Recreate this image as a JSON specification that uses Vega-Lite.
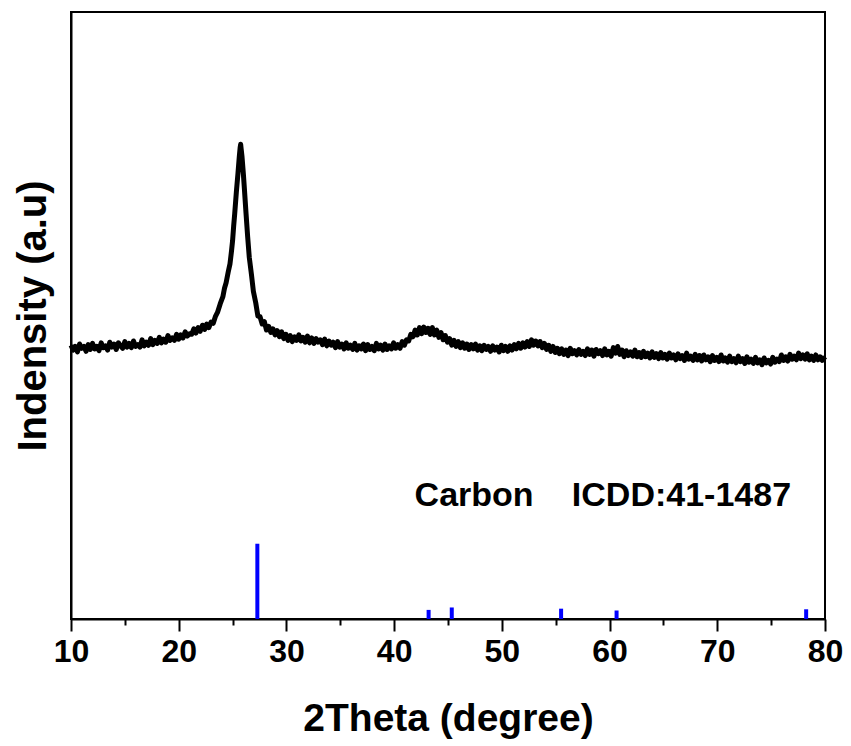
{
  "$schema": "https://vega.github.io/schema/vega-lite/v6.json",
  "width": 754,
  "height": 607,
  "autosize": {"type": "none"},
  "padding": {"left": 71, "top": 12, "right": 26, "bottom": 127},
  "background": "white",
  "config": {
    "font": "Liberation Sans",
    "view": {"stroke": "black", "strokeWidth": 2},
    "axis": {"grid": false, "domainColor": "black", "domainWidth": 2, "tickColor": "black", "tickWidth": 2, "labelColor": "black", "titleColor": "black", "labelFont": "Liberation Sans", "titleFont": "Liberation Sans", "labelFontWeight": "bold", "titleFontWeight": "bold"}
  },
  "datasets": {
    "xrd": [
      {"t":10.00,"i":45.1},{"t":10.2,"i":44.3},{"t":10.4,"i":44.9},{"t":10.6,"i":44.0},{"t":10.8,"i":45.3},{"t":11.0,"i":44.6},{"t":11.2,"i":44.9},{"t":11.4,"i":44.1},{"t":11.6,"i":45.2},{"t":11.8,"i":44.4},{"t":12.0,"i":45.4},{"t":12.2,"i":44.5},{"t":12.4,"i":44.9},{"t":12.6,"i":44.2},{"t":12.8,"i":45.5},{"t":13.0,"i":44.7},{"t":13.2,"i":45.0},{"t":13.4,"i":44.3},{"t":13.6,"i":45.6},{"t":13.8,"i":44.8},{"t":14.0,"i":45.3},{"t":14.2,"i":44.4},{"t":14.4,"i":45.5},{"t":14.6,"i":45.0},{"t":14.8,"i":44.6},{"t":15.0,"i":45.7},{"t":15.2,"i":44.8},{"t":15.4,"i":45.4},{"t":15.6,"i":44.7},{"t":15.8,"i":45.8},{"t":16.0,"i":44.9},{"t":16.2,"i":45.2},{"t":16.4,"i":44.8},{"t":16.6,"i":46.0},{"t":16.8,"i":45.0},{"t":17.0,"i":45.6},{"t":17.2,"i":45.1},{"t":17.4,"i":46.2},{"t":17.6,"i":45.2},{"t":17.8,"i":45.9},{"t":18.0,"i":45.4},{"t":18.2,"i":46.4},{"t":18.4,"i":45.5},{"t":18.6,"i":46.1},{"t":18.8,"i":45.6},{"t":19.0,"i":46.7},{"t":19.2,"i":45.9},{"t":19.4,"i":46.3},{"t":19.6,"i":45.9},{"t":19.8,"i":46.9},{"t":20.0,"i":46.1},{"t":20.2,"i":46.8},{"t":20.4,"i":46.3},{"t":20.6,"i":47.3},{"t":20.8,"i":46.6},{"t":21.0,"i":47.0},{"t":21.2,"i":46.9},{"t":21.4,"i":47.8},{"t":21.6,"i":47.1},{"t":21.8,"i":48.0},{"t":22.0,"i":47.4},{"t":22.2,"i":48.4},{"t":22.4,"i":47.7},{"t":22.6,"i":48.6},{"t":22.8,"i":48.0},{"t":23.0,"i":48.9},{"t":23.2,"i":48.7},{"t":23.4,"i":49.8},{"t":23.6,"i":50.5},{"t":23.85,"i":51.9},{"t":24.10,"i":53.1},{"t":24.25,"i":54.5},{"t":24.40,"i":55.4},{"t":24.60,"i":57.2},{"t":24.76,"i":58.5},{"t":24.90,"i":60.6},{"t":25.00,"i":62.3},{"t":25.10,"i":64.7},{"t":25.20,"i":66.8},{"t":25.35,"i":70.3},{"t":25.50,"i":73.4},{"t":25.62,"i":76.1},{"t":25.70,"i":77.6},{"t":25.75,"i":78.2},{"t":25.80,"i":77.4},{"t":25.88,"i":76.1},{"t":26.00,"i":73.4},{"t":26.10,"i":70.8},{"t":26.25,"i":66.8},{"t":26.40,"i":63.0},{"t":26.55,"i":59.6},{"t":26.75,"i":56.8},{"t":26.93,"i":54.0},{"t":27.15,"i":52.1},{"t":27.35,"i":49.9},{"t":27.55,"i":49.8},{"t":27.75,"i":48.6},{"t":27.95,"i":49.0},{"t":28.15,"i":47.6},{"t":28.35,"i":48.2},{"t":28.55,"i":47.2},{"t":28.75,"i":47.8},{"t":28.95,"i":46.8},{"t":29.15,"i":47.5},{"t":29.35,"i":46.5},{"t":29.55,"i":47.3},{"t":29.75,"i":46.2},{"t":29.95,"i":46.9},{"t":30.15,"i":45.9},{"t":30.35,"i":46.7},{"t":30.55,"i":45.7},{"t":30.75,"i":46.5},{"t":30.95,"i":45.9},{"t":31.15,"i":46.8},{"t":31.35,"i":45.8},{"t":31.55,"i":46.4},{"t":31.75,"i":45.6},{"t":31.95,"i":46.6},{"t":32.15,"i":45.5},{"t":32.35,"i":46.3},{"t":32.55,"i":45.4},{"t":32.75,"i":46.2},{"t":32.95,"i":45.6},{"t":33.15,"i":46.0},{"t":33.35,"i":45.2},{"t":33.55,"i":46.1},{"t":33.75,"i":45.0},{"t":33.95,"i":45.8},{"t":34.15,"i":45.1},{"t":34.35,"i":45.6},{"t":34.55,"i":44.7},{"t":34.75,"i":45.7},{"t":34.95,"i":44.8},{"t":35.15,"i":45.3},{"t":35.35,"i":44.5},{"t":35.55,"i":45.5},{"t":35.75,"i":44.6},{"t":35.95,"i":45.1},{"t":36.15,"i":44.4},{"t":36.35,"i":45.4},{"t":36.55,"i":44.3},{"t":36.75,"i":45.0},{"t":36.95,"i":44.5},{"t":37.15,"i":45.3},{"t":37.35,"i":44.2},{"t":37.55,"i":45.2},{"t":37.75,"i":44.4},{"t":37.95,"i":44.9},{"t":38.15,"i":44.2},{"t":38.35,"i":45.4},{"t":38.55,"i":44.5},{"t":38.75,"i":45.1},{"t":38.95,"i":44.3},{"t":39.15,"i":45.3},{"t":39.35,"i":44.4},{"t":39.55,"i":45.0},{"t":39.75,"i":44.5},{"t":39.95,"i":45.5},{"t":40.15,"i":44.6},{"t":40.35,"i":45.2},{"t":40.55,"i":44.6},{"t":40.75,"i":45.7},{"t":40.95,"i":45.1},{"t":41.15,"i":46.0},{"t":41.35,"i":45.8},{"t":41.55,"i":46.9},{"t":41.75,"i":46.5},{"t":41.95,"i":47.6},{"t":42.15,"i":46.8},{"t":42.35,"i":48.0},{"t":42.55,"i":47.0},{"t":42.75,"i":48.1},{"t":42.95,"i":47.2},{"t":43.15,"i":47.9},{"t":43.35,"i":46.9},{"t":43.55,"i":48.0},{"t":43.75,"i":46.8},{"t":43.95,"i":47.6},{"t":44.15,"i":46.4},{"t":44.35,"i":47.2},{"t":44.55,"i":46.0},{"t":44.75,"i":46.7},{"t":44.95,"i":45.6},{"t":45.15,"i":46.2},{"t":45.35,"i":45.1},{"t":45.55,"i":45.9},{"t":45.75,"i":44.9},{"t":45.95,"i":45.7},{"t":46.15,"i":44.7},{"t":46.35,"i":45.5},{"t":46.55,"i":44.6},{"t":46.75,"i":45.3},{"t":46.95,"i":44.4},{"t":47.15,"i":45.2},{"t":47.35,"i":44.5},{"t":47.55,"i":45.3},{"t":47.75,"i":44.3},{"t":47.95,"i":45.0},{"t":48.15,"i":44.2},{"t":48.35,"i":45.1},{"t":48.55,"i":44.4},{"t":48.75,"i":44.9},{"t":48.95,"i":44.1},{"t":49.15,"i":45.0},{"t":49.35,"i":44.3},{"t":49.55,"i":44.8},{"t":49.75,"i":44.0},{"t":49.95,"i":45.1},{"t":50.15,"i":44.2},{"t":50.35,"i":44.9},{"t":50.55,"i":44.1},{"t":50.75,"i":45.0},{"t":50.95,"i":44.3},{"t":51.15,"i":45.2},{"t":51.35,"i":44.5},{"t":51.55,"i":45.4},{"t":51.75,"i":44.6},{"t":51.95,"i":45.5},{"t":52.15,"i":44.8},{"t":52.35,"i":45.7},{"t":52.55,"i":44.9},{"t":52.75,"i":46.0},{"t":52.95,"i":45.1},{"t":53.15,"i":45.8},{"t":53.35,"i":45.0},{"t":53.55,"i":45.7},{"t":53.75,"i":44.7},{"t":53.95,"i":45.4},{"t":54.15,"i":44.4},{"t":54.35,"i":45.1},{"t":54.55,"i":44.1},{"t":54.75,"i":44.9},{"t":54.95,"i":43.9},{"t":55.15,"i":44.6},{"t":55.35,"i":43.7},{"t":55.55,"i":44.5},{"t":55.75,"i":43.6},{"t":55.95,"i":44.3},{"t":56.15,"i":43.4},{"t":56.35,"i":44.6},{"t":56.55,"i":43.7},{"t":56.75,"i":44.2},{"t":56.95,"i":43.5},{"t":57.15,"i":44.4},{"t":57.35,"i":43.6},{"t":57.55,"i":44.1},{"t":57.75,"i":43.4},{"t":57.95,"i":44.5},{"t":58.15,"i":43.6},{"t":58.35,"i":44.3},{"t":58.55,"i":43.3},{"t":58.75,"i":44.4},{"t":58.95,"i":43.7},{"t":59.15,"i":44.2},{"t":59.35,"i":43.4},{"t":59.55,"i":44.5},{"t":59.75,"i":43.5},{"t":59.95,"i":44.1},{"t":60.15,"i":43.3},{"t":60.35,"i":44.7},{"t":60.55,"i":43.8},{"t":60.75,"i":44.9},{"t":60.95,"i":43.6},{"t":61.15,"i":44.3},{"t":61.35,"i":43.2},{"t":61.55,"i":44.2},{"t":61.75,"i":43.4},{"t":61.95,"i":44.0},{"t":62.15,"i":43.3},{"t":62.35,"i":44.3},{"t":62.55,"i":43.2},{"t":62.75,"i":43.9},{"t":62.95,"i":43.1},{"t":63.15,"i":44.1},{"t":63.35,"i":43.2},{"t":63.55,"i":43.8},{"t":63.75,"i":43.0},{"t":63.95,"i":44.0},{"t":64.15,"i":43.1},{"t":64.35,"i":43.7},{"t":64.55,"i":42.9},{"t":64.75,"i":43.9},{"t":64.95,"i":43.0},{"t":65.15,"i":43.6},{"t":65.35,"i":42.8},{"t":65.55,"i":43.8},{"t":65.75,"i":43.0},{"t":65.95,"i":43.5},{"t":66.15,"i":42.7},{"t":66.35,"i":43.7},{"t":66.55,"i":42.9},{"t":66.75,"i":43.4},{"t":66.95,"i":42.6},{"t":67.15,"i":43.8},{"t":67.35,"i":42.8},{"t":67.55,"i":43.3},{"t":67.75,"i":42.6},{"t":67.95,"i":43.6},{"t":68.15,"i":42.7},{"t":68.35,"i":43.4},{"t":68.55,"i":42.5},{"t":68.75,"i":43.5},{"t":68.95,"i":42.7},{"t":69.15,"i":43.2},{"t":69.35,"i":42.4},{"t":69.55,"i":43.4},{"t":69.75,"i":42.6},{"t":69.95,"i":43.1},{"t":70.15,"i":42.4},{"t":70.35,"i":43.5},{"t":70.55,"i":42.5},{"t":70.75,"i":43.0},{"t":70.95,"i":42.3},{"t":71.15,"i":43.3},{"t":71.35,"i":42.4},{"t":71.55,"i":42.9},{"t":71.75,"i":42.2},{"t":71.95,"i":43.3},{"t":72.15,"i":42.4},{"t":72.35,"i":42.9},{"t":72.55,"i":42.1},{"t":72.75,"i":43.2},{"t":72.95,"i":42.3},{"t":73.15,"i":42.8},{"t":73.35,"i":42.1},{"t":73.55,"i":43.1},{"t":73.75,"i":42.2},{"t":73.95,"i":42.7},{"t":74.15,"i":41.9},{"t":74.35,"i":43.0},{"t":74.55,"i":42.2},{"t":74.75,"i":42.6},{"t":74.95,"i":42.0},{"t":75.15,"i":43.1},{"t":75.35,"i":42.3},{"t":75.55,"i":42.8},{"t":75.75,"i":42.4},{"t":75.95,"i":43.5},{"t":76.15,"i":42.6},{"t":76.35,"i":43.2},{"t":76.55,"i":42.5},{"t":76.75,"i":43.6},{"t":76.95,"i":42.8},{"t":77.15,"i":43.3},{"t":77.35,"i":42.7},{"t":77.55,"i":43.8},{"t":77.75,"i":42.9},{"t":77.95,"i":43.5},{"t":78.15,"i":42.8},{"t":78.35,"i":43.7},{"t":78.55,"i":42.7},{"t":78.75,"i":43.3},{"t":78.95,"i":42.6},{"t":79.15,"i":43.5},{"t":79.35,"i":42.7},{"t":79.55,"i":43.2},{"t":79.75,"i":42.6},{"t":80.00,"i":43.2}
    ],
    "ref": [
      {"t":27.3,"i":12.4,"b":0},{"t":43.2,"i":1.5,"b":0},{"t":45.35,"i":1.9,"b":0},{"t":55.5,"i":1.7,"b":0},{"t":60.65,"i":1.4,"b":0},{"t":78.25,"i":1.6,"b":0}
    ],
    "labels": [
      {"label":"Carbon","t":41.9,"i":18.6},{"label":"ICDD:41-1487","t":56.5,"i":18.6}
    ]
  },
  "resolve": {"axis": {"x": "independent"}},
  "layer": [
    {
      "data": {"name": "ref"},
      "mark": {"type": "rule", "color": "#0000ff", "strokeWidth": 4},
      "encoding": {
        "x": {"field": "t", "type": "quantitative", "scale": {"domain": [10, 80], "nice": false},
          "axis": {"orient": "bottom", "values": [15, 25, 35, 45, 55, 65, 75], "tickSize": 6, "labels": false, "domain": false, "title": null}},
        "y": {"field": "i", "type": "quantitative", "scale": {"domain": [0, 100], "nice": false}},
        "y2": {"field": "b"}
      }
    },
    {
      "data": {"name": "xrd"},
      "mark": {"type": "line", "color": "black", "strokeWidth": 5, "strokeJoin": "round"},
      "encoding": {
        "x": {"field": "t", "type": "quantitative", "scale": {"domain": [10, 80], "nice": false},
          "axis": {"orient": "bottom", "values": [10, 20, 30, 40, 50, 60, 70, 80], "tickSize": 12, "labelFontSize": 32, "labelPadding": 5, "labelFlush": false, "title": "2Theta (degree)", "titleFontSize": 39, "titlePadding": 32}},
        "y": {"field": "i", "type": "quantitative", "scale": {"domain": [0, 100], "nice": false},
          "axis": {"ticks": false, "labels": false, "title": "Indensity (a.u)", "titleFontSize": 40, "titlePadding": 18}}
      }
    },
    {
      "data": {"name": "labels"},
      "mark": {"type": "text", "align": "left", "baseline": "alphabetic", "fontSize": 34, "fontWeight": "bold", "color": "black"},
      "encoding": {
        "x": {"field": "t", "type": "quantitative", "axis": null},
        "y": {"field": "i", "type": "quantitative"},
        "text": {"field": "label"}
      }
    }
  ]
}
